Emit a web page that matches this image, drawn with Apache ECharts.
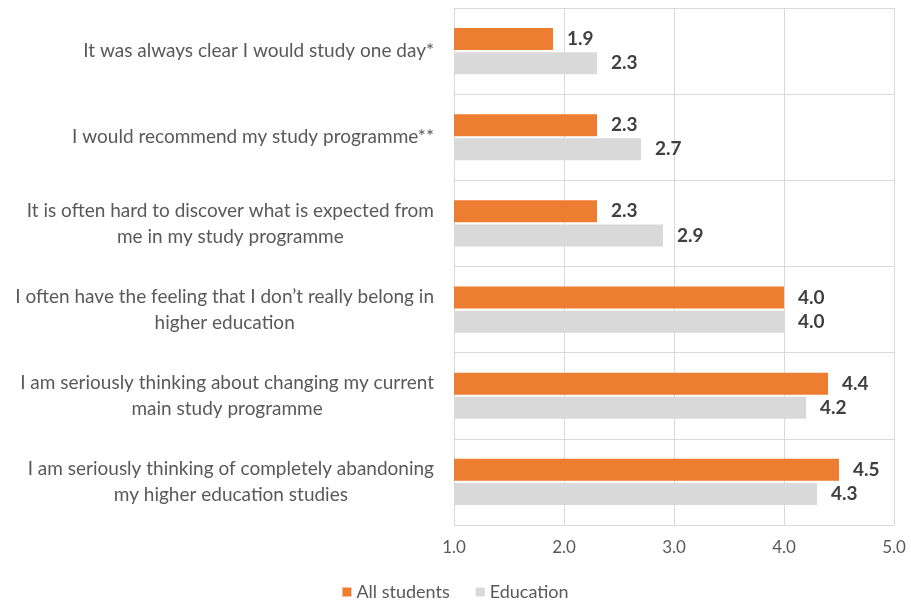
<!DOCTYPE html>
<html>
<head>
<meta charset="utf-8">
<script src="https://cdn.jsdelivr.net/npm/echarts@6/dist/echarts.min.js"></script>
<style>
  html, body { margin: 0; padding: 0; background: #fff; }
  #chart { width: 911px; height: 601px; }
</style>
</head>
<body>
<div id="chart"></div>
<script>
// Statements, listed from top to bottom of the chart
const statements = [
  'It was always clear I would study one day*',
  'I would recommend my study programme**',
  'It is often hard to discover what is expected from\nme in my study programme',
  'I often have the feeling that I don\u2019t really belong in\nhigher education',
  'I am seriously thinking about changing my current\nmain study programme',
  'I am seriously thinking of completely abandoning\nmy higher education studies'
];
const seriesNames = ['All students', 'Education'];
const allStudents = [1.9, 2.3, 2.3, 4.0, 4.4, 4.5];
const education = [2.3, 2.7, 2.9, 4.0, 4.2, 4.3];
const scaleTicks = [1, 2, 3, 4, 5];

const FONT = 'Lato';
const gridColor = '#d9d9d9';

const chart = echarts.init(document.getElementById('chart'), null, { renderer: 'canvas' });

// each line of a wrapped statement is centred under the one above it
function centeredLines(text) {
  return text.split('\n').map(l => '{c|' + l + '}').join('\n');
}

const valueLabel = {
  show: true,
  position: 'right',
  distance: 14,
  fontFamily: FONT,
  fontWeight: 'bold',
  fontSize: 19,
  color: '#404040',
  formatter: p => p.value.toFixed(1)
};

chart.setOption({
  animation: false,
  backgroundColor: '#fff',
  textStyle: { fontFamily: FONT },
  grid: { left: 454, right: 17, top: 8, bottom: 76, containLabel: false },
  legend: {
    data: seriesNames,
    top: 578,
    left: 'center',
    itemWidth: 9,
    itemHeight: 9,
    itemGap: 26,
    icon: 'rect',
    textStyle: { fontFamily: FONT, fontSize: 18, color: '#595959' }
  },
  xAxis: {
    type: 'value',
    min: scaleTicks[0],
    max: scaleTicks[scaleTicks.length - 1],
    interval: 1,
    axisLine: { show: false },
    axisTick: { show: false },
    splitLine: { show: true, lineStyle: { color: gridColor, width: 1 } },
    axisLabel: {
      margin: 14,
      fontFamily: FONT,
      fontSize: 17,
      color: '#595959',
      formatter: v => v.toFixed(1)
    }
  },
  yAxis: {
    type: 'category',
    inverse: true,
    data: statements,
    axisLine: { show: false },
    axisTick: { show: false },
    splitLine: { show: true, lineStyle: { color: gridColor, width: 1 } },
    axisLabel: {
      margin: 20,
      fontFamily: FONT,
      fontSize: 19,
      color: '#595959',
      lineHeight: 26,
      formatter: centeredLines,
      rich: {
        c: { align: 'center', fontFamily: FONT, fontSize: 19, color: '#595959', lineHeight: 26 }
      }
    }
  },
  series: [
    {
      name: seriesNames[0],
      type: 'bar',
      data: allStudents,
      barWidth: 22,
      barGap: '10%',
      itemStyle: { color: '#ed7d31' },
      label: valueLabel
    },
    {
      name: seriesNames[1],
      type: 'bar',
      data: education,
      barWidth: 22,
      itemStyle: { color: '#d9d9d9' },
      label: valueLabel
    }
  ]
});
</script>
</body>
</html>
